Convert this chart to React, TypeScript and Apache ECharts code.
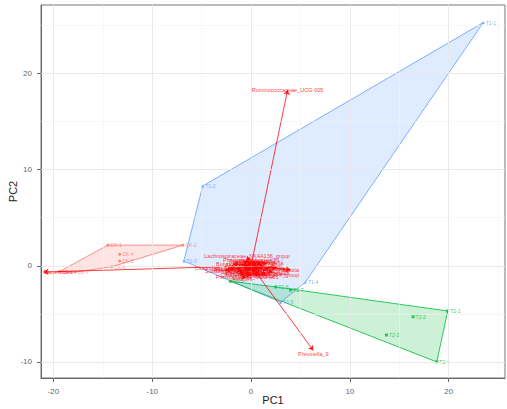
import React, { useEffect, useRef } from "react";
import * as echarts from "echarts";

// ---------- data ----------
const xTickValues = [-20, -10, 0, 10, 20];
const yTickValues = [-10, 0, 10, 20];
const xMinorValues = [-15, -5, 5, 15, 25];
const yMinorValues = [-5, 5, 15, 25];

const groupNames = ["CK", "T1", "T2"];

const ckLabels = ["CK-1", "CK-2", "CK-3", "CK-4", "CK-5", "CK-6", "CK-7"];
const ckPC1 = [-14.5, -6.9, -19.4, -13.3, -13.3, -14.1, -17.8];
const ckPC2 = [2.15, 2.15, -0.6, 1.2, 0.5, -0.1, -0.65];

const t1Labels = ["T1-1", "T1-2", "T1-3", "T1-4", "T1-5", "T1-6", "T1-7", "T1-8"];
const t1PC1 = [23.5, -4.9, -6.8, 5.5, 3.0, 0.5, 2.0, -2.5];
const t1PC2 = [25.3, 8.3, 0.5, -1.7, -3.8, -0.5, 0.6, -0.8];

const t2Labels = ["T2-1", "T2-2", "T2-3", "T2-4", "T2-5", "T2-6", "T2-7"];
const t2PC1 = [19.9, 16.4, 13.7, 18.8, -2.1, 2.5, 4.0];
const t2PC2 = [-4.7, -5.3, -7.2, -10.0, -1.6, -2.2, -2.5];

const varNames = [
  "Ruminococcaceae_UCG-005",
  "Prevotella_9",
  "Bacteroides",
  "Lachnospiraceae_NK4A136_group",
  "Blautia",
  "Alistipes",
  "Faecalibacterium",
  "Escherichia-Shigella",
  "Lactobacillus",
  "Akkermansia",
  "Bifidobacterium",
  "Roseburia",
  "Oscillibacter",
  "Parabacteroides",
  "Ruminococcus_1",
  "Desulfovibrio",
  "Helicobacter",
  "Romboutsia",
  "Turicibacter",
  "Streptococcus",
  "Muribaculaceae",
  "Odoribacter",
  "Rikenellaceae_RC9_gut_group",
  "Clostridium_sensu_stricto_1",
  "Enterococcus",
  "Butyricimonas",
  "Christensenellaceae_R-7_group",
  "Prevotellaceae_UCG-001",
  "Alloprevotella",
  "Subdoligranulum",
  "Dorea",
  "Sutterella",
  "Phascolarctobacterium",
  "Collinsella",
  "Anaerostipes",
  "Agathobacter",
];
const varPC1 = [
  3.7, 6.3, -21.0, -0.4, 4.0, -0.9, 0.5, -0.2, 0.8, -1.0, 1.2, 0.2, -0.6, 1.5, -1.5, 0.3, -0.3, 1.0,
  -1.2, 0.6, 1.8, -0.8, 0.1, -2.2, 2.2, -1.8, 0.9, -0.4, 1.6, -2.6, 2.6, -1.4, 0.0, 1.3, -0.7, 0.4,
];
const varPC2 = [
  18.3, -8.8, -0.65, 1.0, -0.4, -1.4, 0.3, -0.2, -0.5, 0.1, 0.0, -0.8, -0.6, -0.9, -0.3, 0.5, 0.3, 0.4,
  -0.9, -1.1, -0.3, 0.5, -0.4, -0.2, -0.7, 0.2, -1.0, -1.2, 0.3, -0.5, -0.2, -0.6, 0.6, -0.1, -0.3, -0.7,
];

// ---------- style ----------
const groupColors = ["#F8766D", "#619CFF", "#00BA38"];
const groupFills = ["rgba(248,118,109,0.2)", "rgba(97,156,255,0.2)", "rgba(0,186,56,0.2)"];
const groupSymbols = ["circle", "triangle", "rect"];
const FONT = "Liberation Sans, Arial, Helvetica, sans-serif";

function convexHull(pts: number[][]): number[][] {
  const p = pts.slice().sort((a, b) => (a[0] - b[0]) || (a[1] - b[1]));
  const cross = (o: number[], a: number[], b: number[]) =>
    (a[0] - o[0]) * (b[1] - o[1]) - (a[1] - o[1]) * (b[0] - o[0]);
  const lower: number[][] = [];
  for (const q of p) {
    while (lower.length >= 2 && cross(lower[lower.length - 2], lower[lower.length - 1], q) <= 0) lower.pop();
    lower.push(q);
  }
  const upper: number[][] = [];
  for (let i = p.length - 1; i >= 0; i--) {
    const q = p[i];
    while (upper.length >= 2 && cross(upper[upper.length - 2], upper[upper.length - 1], q) <= 0) upper.pop();
    upper.push(q);
  }
  upper.pop();
  lower.pop();
  return lower.concat(upper);
}

export default function App() {
  const ref = useRef<HTMLDivElement>(null);

  useEffect(() => {
    if (!ref.current) return;
    const chart = echarts.init(ref.current, undefined, { renderer: "svg" });

    const groups = [
      { labels: ckLabels, x: ckPC1, y: ckPC2 },
      { labels: t1Labels, x: t1PC1, y: t1PC2 },
      { labels: t2Labels, x: t2PC1, y: t2PC2 },
    ];

    const hullSeries = groups.map((g, gi) => {
      const pts = g.x.map((v, i) => [v, g.y[i]]);
      const hull = convexHull(pts);
      return {
        type: "custom",
        name: groupNames[gi] + "_hull",
        silent: true,
        z: 1,
        data: [[hull[0][0], hull[0][1]]],
        encode: { x: 0, y: 1 },
        renderItem: (_params: any, api: any) => ({
          type: "polygon",
          shape: { points: hull.map((h) => api.coord(h)) },
          style: { fill: groupFills[gi], stroke: groupColors[gi], lineWidth: 0.8 },
        }),
      };
    });

    const pointSeries = groups.map((g, gi) => ({
      type: "scatter",
      name: groupNames[gi],
      z: 3,
      symbol: groupSymbols[gi],
      symbolSize: 3,
      itemStyle: { color: groupColors[gi] },
      label: {
        show: true,
        position: "right",
        distance: 1,
        fontSize: 5,
        color: groupColors[gi],
        fontFamily: FONT,
        formatter: (p: any) => p.data.name,
      },
      data: g.x.map((v, i) => ({ name: g.labels[i], value: [v, g.y[i]] })),
    }));

    const arrowSeries = {
      type: "lines",
      coordinateSystem: "cartesian2d",
      z: 4,
      silent: true,
      symbol: ["none", "arrow"],
      symbolSize: 5,
      lineStyle: { color: "#FF0000", width: 0.9, opacity: 0.85 },
      data: varNames.map((n, i) => ({ name: n, coords: [[0, 0], [varPC1[i], varPC2[i]]] })),
    };

    const varLabelSeries = {
      type: "scatter",
      z: 5,
      silent: true,
      symbolSize: 0,
      label: {
        show: true,
        position: "inside",
        fontSize: 5.5,
        color: "#FF0000",
        fontFamily: FONT,
        formatter: (p: any) => p.data.name,
      },
      data: varNames.map((n, i) => {
        const item: any = { name: n, value: [varPC1[i], varPC2[i]] };
        if (varPC1[i] < -15) item.label = { position: "right", distance: 0 };
        if (varPC2[i] < -5) item.label = { position: "bottom", distance: 1 };
        return item;
      }),
    };

    const gridSeries = {
      type: "scatter",
      silent: true,
      z: 0,
      data: [],
      markLine: {
        silent: true,
        symbol: ["none", "none"],
        label: { show: false },
        animation: false,
        data: [
          ...xMinorValues.map((v) => ({ xAxis: v, lineStyle: { color: "#f4f4f4", width: 0.6, type: "solid" } })),
          ...yMinorValues.map((v) => ({ yAxis: v, lineStyle: { color: "#f4f4f4", width: 0.6, type: "solid" } })),
          ...xTickValues.map((v) => ({ xAxis: v, lineStyle: { color: "#e8e8e8", width: 0.9, type: "solid" } })),
          ...yTickValues.map((v) => ({ yAxis: v, lineStyle: { color: "#e8e8e8", width: 0.9, type: "solid" } })),
        ],
      },
    };

    chart.setOption({
      animation: false,
      textStyle: { fontFamily: FONT },
      grid: {
        left: 41,
        right: 2,
        top: 5,
        bottom: 31,
        containLabel: false,
        outerBoundsMode: "none",
        show: true,
        borderColor: "#777",
        borderWidth: 1,
        backgroundColor: "#ffffff",
      },
      xAxis: {
        type: "value",
        min: -21.26,
        max: 25.7,
        name: "PC1",
        nameLocation: "middle",
        nameGap: 16,
        nameMoveOverlap: false,
        nameTextStyle: { fontSize: 11, color: "#222" },
        axisLine: { show: true, onZero: false, lineStyle: { color: "#666", width: 1 } },
        axisTick: { show: true, customValues: xTickValues, length: 4, lineStyle: { color: "#666" } },
        axisLabel: { customValues: xTickValues, fontSize: 8, color: "#666", margin: 9 },
        splitLine: { show: false },
      },
      yAxis: {
        type: "value",
        min: -11.67,
        max: 27.13,
        name: "PC2",
        nameLocation: "middle",
        nameGap: 23,
        nameMoveOverlap: false,
        nameTextStyle: { fontSize: 11, color: "#222" },
        axisLine: { show: true, onZero: false, lineStyle: { color: "#666", width: 1 } },
        axisTick: { show: true, customValues: yTickValues, length: 4, lineStyle: { color: "#666" } },
        axisLabel: { customValues: yTickValues, fontSize: 8, color: "#666", margin: 9 },
        splitLine: { show: false },
      },
      series: [gridSeries, ...hullSeries, ...pointSeries, arrowSeries, varLabelSeries],
    });

    return () => chart.dispose();
  }, []);

  return (
    <div
      ref={ref}
      style={{ position: "absolute", left: 0, top: 0, width: 507, height: 409, background: "#fff" }}
    />
  );
}
